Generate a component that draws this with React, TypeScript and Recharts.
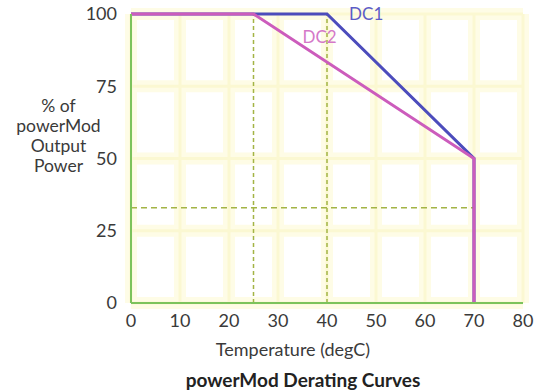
import React from 'react';
import { CartesianGrid, Line, LineChart, ReferenceDot, ReferenceLine, XAxis, YAxis } from 'recharts';

// derating curves: temperature (degC) vs % of output power
const dc1Temp = [0, 40, 70, 70];
const dc1Power = [100, 100, 50, 0];
const dc2Temp = [0, 25, 70, 70];
const dc2Power = [100, 100, 50, 0];

const xTicks = [0, 10, 20, 30, 40, 50, 60, 70, 80];
const yTicks = [0, 25, 50, 75, 100];

// dashed guides
const markerTemps = [25, 40];
const markerPowerSpan = [0, 100];
const guidePower = 33;
const guideTempSpan = [0, 70];

const yLabelLines = ['% of', 'powerMod', 'Output', 'Power'];

const toPoints = (temps: number[], powers: number[]) => temps.map((t, i) => ({ t, p: powers[i] }));

const dc1 = toPoints(dc1Temp, dc1Power);
const dc2 = toPoints(dc2Temp, dc2Power);

const FONT = 'Lato, "Open Sans", sans-serif';
const GREEN = '#7cc35c';
const GUIDE = '#a3b445';
const BLUE = '#4c4cbc';
const MAGENTA = '#cc5cbc';
const TEXT = '#3a3a3a';

export default function App() {
  return (
    <div style={{ position: 'absolute', left: 0, top: 0, width: 546, height: 392, background: '#fff', fontFamily: FONT }}>
      <LineChart width={546} height={392} margin={{ top: 14, right: 23, left: 0, bottom: 59 }}>
        <CartesianGrid stroke="#fefce6" strokeWidth={12} />
        <CartesianGrid stroke="#fbf8d2" strokeWidth={3} />
        <XAxis
          type="number"
          dataKey="t"
          domain={[0, 80]}
          ticks={xTicks}
          interval={0}
          tickLine={false}
          axisLine={{ stroke: GREEN, strokeWidth: 2 }}
          tick={{ fill: TEXT, fontSize: 18, fontFamily: FONT }}
          tickMargin={5}
          height={30}
        />
        <YAxis
          type="number"
          dataKey="p"
          domain={[0, 100]}
          ticks={yTicks}
          interval={0}
          width={131}
          tickLine={false}
          axisLine={{ stroke: GREEN, strokeWidth: 2 }}
          tick={{ fill: TEXT, fontSize: 18, fontFamily: FONT }}
          tickMargin={8}
        />
        {markerTemps.map((t) => (
          <ReferenceLine
            key={t}
            segment={[{ x: t, y: markerPowerSpan[0] }, { x: t, y: markerPowerSpan[1] }]}
            stroke={GUIDE}
            strokeWidth={1.5}
            strokeDasharray="4 3"
          />
        ))}
        <ReferenceLine
          segment={[{ x: guideTempSpan[0], y: guidePower }, { x: guideTempSpan[1], y: guidePower }]}
          stroke={GUIDE}
          strokeWidth={1.5}
          strokeDasharray="6 4"
        />
        <Line data={dc1} dataKey="p" type="linear" stroke={BLUE} strokeWidth={3} dot={false} isAnimationActive={false} />
        <Line data={dc2} dataKey="p" type="linear" stroke={MAGENTA} strokeWidth={3} dot={false} isAnimationActive={false} />
        <ReferenceDot x={48} y={100} r={0} ifOverflow="visible" fill="none" stroke="none"
          label={{ value: 'DC1', position: 'center', fill: '#5c5cc8', fontSize: 17, fontFamily: FONT }} />
        <ReferenceDot x={38.5} y={92} r={0} ifOverflow="visible" fill="none" stroke="none"
          label={{ value: 'DC2', position: 'center', fill: '#d478c8', fontSize: 17, fontFamily: FONT }} />
      </LineChart>
      <div style={{ position: 'absolute', left: 0, top: 96, width: 117, textAlign: 'center', fontSize: 17.5, lineHeight: '20px', color: TEXT }}>
        {yLabelLines.map((l) => (
          <div key={l}>{l}</div>
        ))}
      </div>
      <div style={{ position: 'absolute', left: 193, top: 338, width: 200, textAlign: 'center', fontSize: 18, lineHeight: '22px', color: TEXT }}>
        Temperature (degC)
      </div>
      <div style={{ position: 'absolute', left: 153, top: 368, width: 300, textAlign: 'center', fontSize: 19, lineHeight: '24px', fontWeight: 700, color: '#222' }}>
        powerMod Derating Curves
      </div>
    </div>
  );
}
